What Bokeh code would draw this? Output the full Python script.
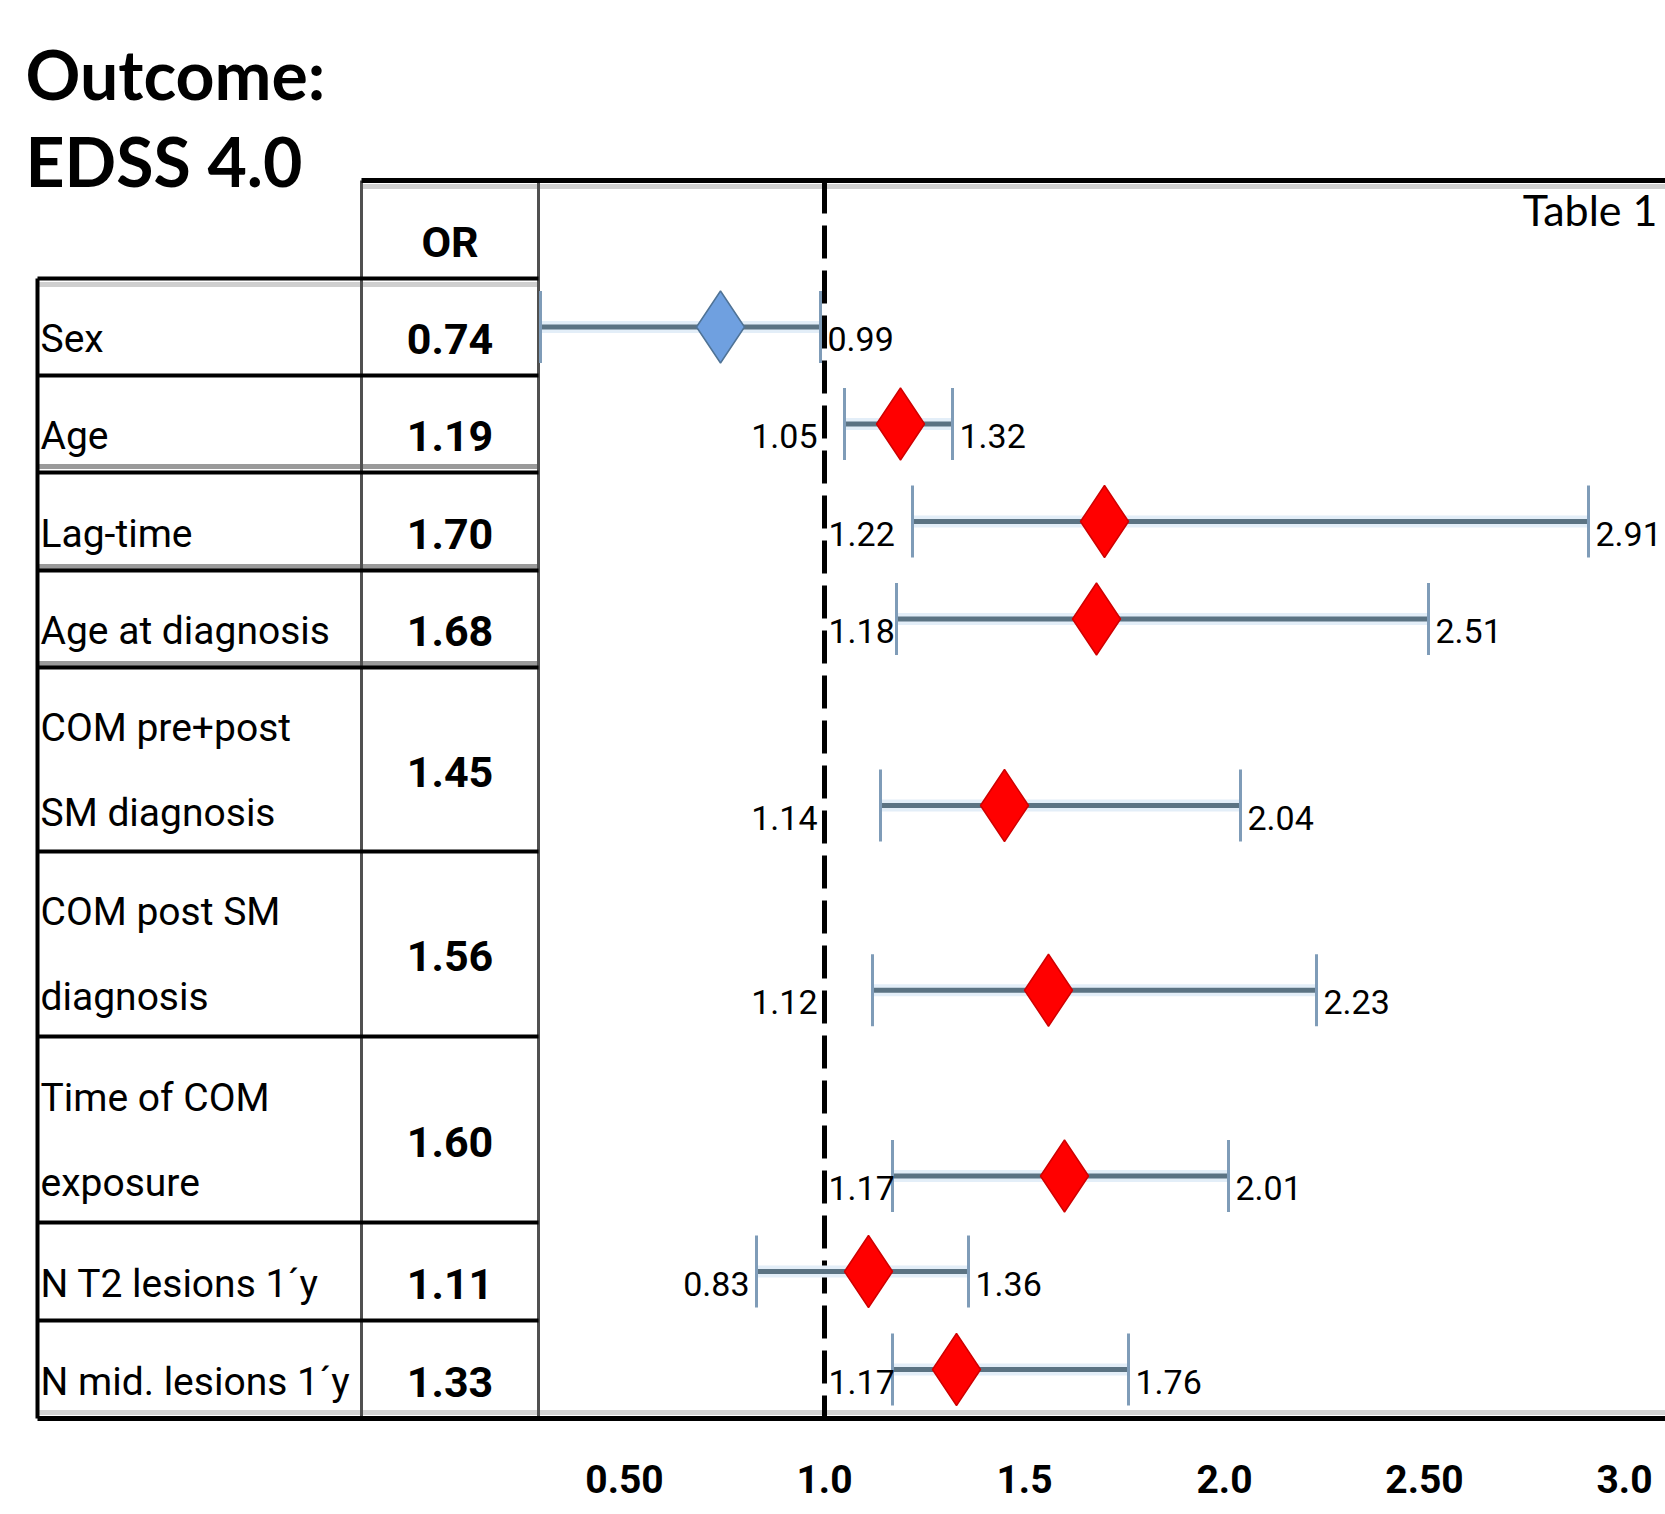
from bokeh.plotting import figure
from bokeh.models import Range1d, LinearAxis, FixedTicker
from bokeh.core.properties import value
from bokeh.embed import file_html
from bokeh.resources import INLINE

# ---------------- data ----------------
title_lines = ["Outcome:", "EDSS 4.0"]
corner_note = "Table 1"
or_header = "OR"
variables = ["Sex", "Age", "Lag-time", "Age at diagnosis",
             "COM pre+post\nSM diagnosis", "COM post SM\ndiagnosis",
             "Time of COM\nexposure", "N T2 lesions  1\u00b4y", "N mid. lesions 1\u00b4y"]
odds_ratio = [0.74, 1.19, 1.70, 1.68, 1.45, 1.56, 1.60, 1.11, 1.33]
ci_low = [0.29, 1.05, 1.22, 1.18, 1.14, 1.12, 1.17, 0.83, 1.17]
ci_high = [0.99, 1.32, 2.91, 2.51, 2.04, 2.23, 2.01, 1.36, 1.76]
ci_low_labelled = [False, True, True, True, True, True, True, True, True]
reference_or = 1.0
tick_values = [0.5, 1.0, 1.5, 2.0, 2.5, 3.0]
tick_labels = ["0.50", "1.0", "1.5", "2.0", "2.50", "3.0"]

# ---------------- layout / style ----------------
marker_colors = ["#6fa0e0"] + ["#ff0000"] * 8
marker_lines = ["#4f7396"] + ["#d00000"] * 8
# where the lower-bound label sits: before/after the reference line, or left of its cap
low_label_anchor = ["none", "before_ref", "after_ref", "after_ref", "before_ref",
                    "before_ref", "after_ref", "cap", "after_ref"]

W, FRAME_H = 1665, 1438
REF_LINE_PX, PX_PER_OR = 824, 400
LEFT, COL1, COL2, RIGHT = 37, 361, 538, 1700
TOP = 180
HEADER_H = 98
row_heights = [97, 97, 98, 97, 184, 185, 186, 98, 98]

FONT = value("Roboto")

or_start = reference_or + (0 - REF_LINE_PX) / PX_PER_OR
or_end = reference_or + (W - REF_LINE_PX) / PX_PER_OR

p = figure(frame_width=W, frame_height=FRAME_H,
           x_range=Range1d(0, W), y_range=Range1d(-FRAME_H, 0),
           x_axis_location=None, y_axis_location=None,
           output_backend="svg", toolbar_location=None, min_border=0,
           min_border_bottom=72)
p.extra_x_ranges = {"or": Range1d(or_start, or_end)}
p.outline_line_color = None
p.xgrid.visible = False
p.ygrid.visible = False
p.background_fill_color = "white"
p.border_fill_color = "white"

# rows
tops, bottoms = [], []
y = TOP + HEADER_H
for h in row_heights:
    tops.append(y)
    y += h
    bottoms.append(y)
BOTTOM = bottoms[-1]
centers = [(t + b) / 2 for t, b in zip(tops, bottoms)]
marker_y = [(t + 0.5 * h) if h < 150 else (t + 0.75 * h)
            for t, h in zip(tops, row_heights)]

# ---- table lines ----
p.segment(x0=[COL1, LEFT], y0=[-(TOP + 6), -(TOP + HEADER_H + 6)],
          x1=[RIGHT, COL2], y1=[-(TOP + 6), -(TOP + HEADER_H + 6)],
          line_color="#cfcfcf", line_width=5)
p.segment(x0=[LEFT], y0=[-(BOTTOM - 6)], x1=[RIGHT], y1=[-(BOTTOM - 6)],
          line_color="#d4d4d4", line_width=5)
p.segment(x0=[LEFT, LEFT, LEFT], y0=[-(tops[2] - 6), -(tops[3] - 4), -(tops[4] - 4)],
          x1=[COL2, COL2, COL2], y1=[-(tops[2] - 6), -(tops[3] - 4), -(tops[4] - 4)],
          line_color="#9a9a9a", line_width=5)
p.segment(x0=[LEFT], y0=[-(TOP + HEADER_H)], x1=[LEFT], y1=[-BOTTOM],
          line_color="black", line_width=4)
p.segment(x0=[COL1, COL2], y0=[-TOP, -TOP], x1=[COL1, COL2], y1=[-BOTTOM, -BOTTOM],
          line_color="#505050", line_width=3)
sep_y = [TOP + HEADER_H] + bottoms[:-1]
p.segment(x0=[LEFT] * len(sep_y), y0=[-v for v in sep_y],
          x1=[COL2] * len(sep_y), y1=[-v for v in sep_y],
          line_color="black", line_width=4)
p.segment(x0=[COL1], y0=[-TOP], x1=[RIGHT], y1=[-TOP], line_color="black", line_width=5)
p.segment(x0=[LEFT], y0=[-BOTTOM], x1=[RIGHT], y1=[-BOTTOM], line_color="black", line_width=5)

# ---- reference line ----
p.segment(x0=[reference_or], y0=[-TOP], x1=[reference_or], y1=[-BOTTOM],
          x_range_name="or", line_color="black", line_width=5, line_dash="33 12")

# ---- whiskers ----
ny = [-v for v in marker_y]
p.segment(x0=ci_low, y0=ny, x1=ci_high, y1=ny, x_range_name="or",
          line_color="#e3eef8", line_width=12)
p.segment(x0=ci_low, y0=ny, x1=ci_high, y1=ny, x_range_name="or",
          line_color="#5b7383", line_width=5)
cap = 36
p.segment(x0=ci_low, y0=[v + cap for v in ny], x1=ci_low, y1=[v - cap for v in ny],
          x_range_name="or", line_color="#7f9cb8", line_width=3)
p.segment(x0=ci_high, y0=[v + cap for v in ny], x1=ci_high, y1=[v - cap for v in ny],
          x_range_name="or", line_color="#7f9cb8", line_width=3)

# ---- diamonds ----
p.scatter(x=odds_ratio, y=ny, marker="diamond", size=72, x_range_name="or",
          fill_color=marker_colors, line_color=marker_lines, line_width=1.5)

# ---- CI value labels ----
VAL_SIZE = "34px"
p.text(x=ci_high, y=[v - 12 for v in ny], text=["%.2f" % v for v in ci_high],
       x_range_name="or", x_offset=7, text_align="left", text_baseline="middle",
       text_font=FONT, text_font_size=VAL_SIZE, text_color="black")
rx, ry, rt, ax_, ay_, at_ = [], [], [], [], [], []
for i in range(len(ci_low)):
    if not ci_low_labelled[i]:
        continue
    anchor = low_label_anchor[i]
    if anchor == "after_ref":
        ax_.append(reference_or)
        ay_.append(ny[i] - 12)
        at_.append("%.2f" % ci_low[i])
    else:
        rx.append(reference_or if anchor == "before_ref" else ci_low[i])
        ry.append(ny[i] - 12)
        rt.append("%.2f" % ci_low[i])
p.text(x=rx, y=ry, text=rt, x_range_name="or", x_offset=-7,
       text_align="right", text_baseline="middle",
       text_font=FONT, text_font_size=VAL_SIZE, text_color="black")
p.text(x=ax_, y=ay_, text=at_, x_range_name="or", x_offset=4,
       text_align="left", text_baseline="middle",
       text_font=FONT, text_font_size=VAL_SIZE, text_color="black")

# ---- table text ----
vx, vy, vt = [], [], []
for i, lab in enumerate(variables):
    lines = lab.split("\n")
    if len(lines) == 1:
        vx.append(LEFT + 3)
        vy.append(-(centers[i] + 12))
        vt.append(lines[0])
    else:
        for j, ln in enumerate(lines):
            vx.append(LEFT + 3)
            vy.append(-(centers[i] - 32 + j * 85))
            vt.append(ln)
p.text(x=vx, y=vy, text=vt, text_align="left", text_baseline="middle",
       text_font=FONT, text_font_size="39px", text_color="black")

or_x = (COL1 + COL2) / 2
p.text(x=[or_x] * len(odds_ratio), y=[-(c + 12) for c in centers],
       text=["%.2f" % v for v in odds_ratio], text_align="center",
       text_baseline="middle", text_font=FONT, text_font_style="bold",
       text_font_size="43px", text_color="black")
p.text(x=[or_x], y=[-(TOP + HEADER_H / 2 + 12)], text=[or_header], text_align="center",
       text_baseline="middle", text_font=FONT, text_font_style="bold",
       text_font_size="43px", text_color="black")

# ---- titles ----
p.text(x=[25, 25], y=[-73, -160], text=title_lines, text_align="left",
       text_baseline="middle", text_font=value("Lato"), text_font_style="bold",
       text_font_size="68px", text_color="black")
p.text(x=[1657], y=[-209], text=[corner_note], text_align="right",
       text_baseline="middle", text_font=value("Lato"),
       text_font_size="43px", text_color="black")

# ---- OR axis ----
axis = LinearAxis(x_range_name="or", ticker=FixedTicker(ticks=tick_values))
axis.major_label_overrides = {v: l for v, l in zip(tick_values, tick_labels)}
axis.axis_line_color = None
axis.major_tick_line_color = None
axis.minor_tick_line_color = None
axis.major_tick_out = 0
axis.major_tick_in = 0
axis.major_label_standoff = 26
axis.major_label_text_font = "Roboto"
axis.major_label_text_font_style = "bold"
axis.major_label_text_font_size = "39px"
axis.major_label_text_color = "black"
p.add_layout(axis, "below")

open("out.html", "w").write(file_html(p, INLINE))
